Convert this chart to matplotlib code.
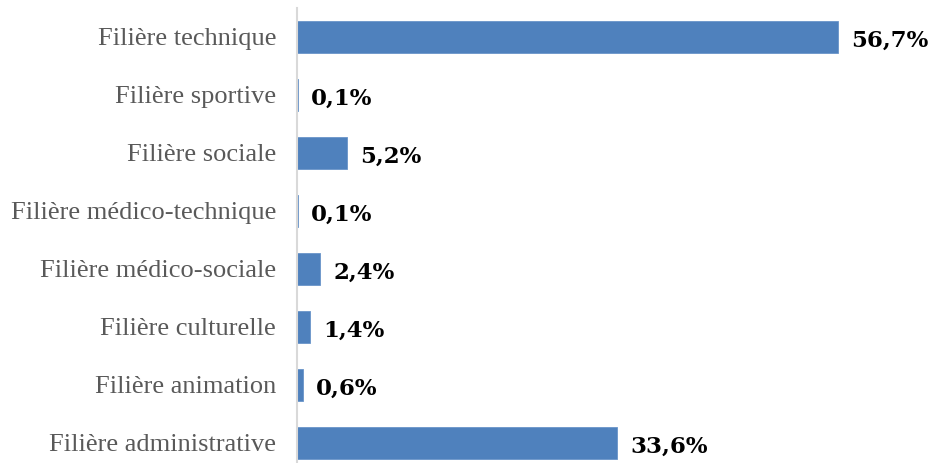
import matplotlib
matplotlib.use("Agg")
import matplotlib.pyplot as plt

categories = [
    "Filière administrative",
    "Filière animation",
    "Filière culturelle",
    "Filière médico-sociale",
    "Filière médico-technique",
    "Filière sociale",
    "Filière sportive",
    "Filière technique",
]
values = [33.6, 0.6, 1.4, 2.4, 0.1, 5.2, 0.1, 56.7]
value_labels = ["33,6%", "0,6%", "1,4%", "2,4%", "0,1%", "5,2%", "0,1%", "56,7%"]

W, H = 930, 463
fig = plt.figure(figsize=(W / 100, H / 100), dpi=100)
ax = fig.add_axes([297 / W, 0, 1 - 297 / W, (H - 8) / H])

pos = list(range(len(categories)))
ax.barh(pos, values, height=0.55, color="#4F81BD", edgecolor="#6A95C9", linewidth=0.6)

ax.set_xlim(0, 66.4)
ax.set_ylim(-0.345, 7.5)
ax.set_yticks(pos)
ax.set_yticklabels(categories, fontsize=19, color="#595959", family="Liberation Serif")
ax.tick_params(axis="y", length=0, pad=15)
ax.set_xticks([])

for s in ["top", "right", "bottom"]:
    ax.spines[s].set_visible(False)
ax.spines["left"].set_color("#D9D9D9")
ax.spines["left"].set_linewidth(1.5)

for y, v, lab in zip(pos, values, value_labels):
    ax.annotate(lab, (v, y), xytext=(9.5, -3), textcoords="offset points",
                ha="left", va="center", fontsize=16.5, fontweight="bold",
                color="black", family="DejaVu Serif")

fig.savefig("out.png", dpi=100)
